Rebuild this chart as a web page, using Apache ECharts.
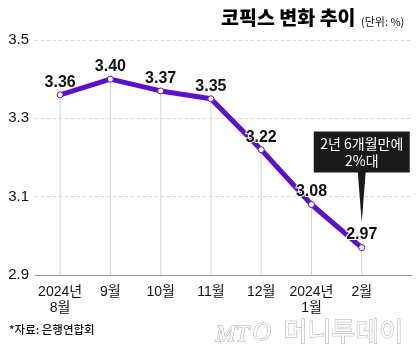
<!DOCTYPE html>
<html><head><meta charset="utf-8">
<script src="https://cdn.jsdelivr.net/npm/echarts@6/dist/echarts.min.js"></script>
<style>html,body{margin:0;padding:0;background:#fff}#c{width:420px;height:364px}</style>
</head><body><div id="c"></div>
<script>
const categories = ['2024년\n8월','9월','10월','11월','12월','2024년\n1월','2월'];
const values = [3.36, 3.40, 3.37, 3.35, 3.22, 3.08, 2.97];
const yTicks = [2.9, 3.1, 3.3, 3.5];
const titleText = '코픽스 변화 추이';
const unitText = '(단위: %)';
const sourceText = '*자료: 은행연합회';
const calloutText = '2년 6개월만에\n2%대';
const calloutIndex = 6;

const NARROW = '"Liberation Sans Narrow","Arial Narrow","Liberation Sans",Arial,sans-serif';
const KR = '"Noto Sans CJK KR","Noto Sans",sans-serif';
const LINE = '#5a10cc';

const chart = echarts.init(document.getElementById('c'), null, {renderer:'canvas'});
const option = {
  animation: false,
  backgroundColor: '#fff',
  grid: {left: 35, right: 8, top: 40, bottom: 89},
  xAxis: {
    type: 'value', min: -0.5, max: categories.length, interval: 0.5,
    splitLine: {show: false},
    axisTick: {show: false},
    axisLine: {show: true, lineStyle: {color: '#9a9a9a', width: 1}},
    axisLabel: {
      color: '#111', fontSize: 14, fontFamily: NARROW + ',' + KR, lineHeight: 16, margin: 9,
      showMinLabel: true, showMaxLabel: true,
      formatter: v => (Number.isInteger(v) && v >= 0 && v < categories.length) ? categories[v] : ''
    }
  },
  yAxis: {
    type: 'value', min: yTicks[0], max: yTicks[yTicks.length-1], interval: 0.2,
    axisLine: {show: false}, axisTick: {show: false},
    splitLine: {show: true, lineStyle: {color: '#d6d6d6', type: [3,3], width: 1}},
    axisLabel: {color: '#111', fontSize: 15, fontFamily: NARROW, margin: 6,
      formatter: v => v.toFixed(1)}
  },
  series: [
    {
      type: 'bar', silent: true, barWidth: 1, z: 1,
      itemStyle: {color: '#d4d4d4'},
      data: values.map((v, i) => [i, v])
    },
    {
      type: 'line', z: 3,
      data: values.map((v, i) => [i, v]),
      lineStyle: {color: LINE, width: 5},
      symbol: 'circle', symbolSize: 6,
      itemStyle: {color: '#fff', borderColor: LINE, borderWidth: 1},
      label: {
        show: true, position: 'top', distance: 1,
        color: '#111', fontSize: 16, fontWeight: 'bold', fontFamily: NARROW,
        textBorderColor: '#fff', textBorderWidth: 2,
        formatter: p => p.value[1].toFixed(2)
      }
    }
  ]
};
chart.setOption(option);

const p = chart.convertToPixel({gridIndex: 0}, [calloutIndex, values[calloutIndex]]);
const boxW = 96, boxH = 41;
const boxTop = p[1] - 116;
const tipY = p[1] - 25;
chart.setOption({
  graphic: [
    {type: 'text', left: 221, top: 8, style: {text: titleText, fill: '#000', font: '900 19.5px ' + KR}},
    {type: 'text', left: 361, top: 16, style: {text: unitText, fill: '#111', font: '11px ' + KR}},
    {type: 'text', left: 9, top: 324, style: {text: sourceText, fill: '#111', font: '500 11.5px ' + KR}},
    {type: 'rect', shape: {x: p[0] - boxW/2, y: boxTop, width: boxW, height: boxH}, style: {fill: '#1a1a1a'}, z: 10},
    {type: 'polygon', shape: {points: [[p[0]-4, boxTop+boxH-1], [p[0]+4, boxTop+boxH-1], [p[0], tipY]]}, style: {fill: '#1a1a1a'}, z: 10},
    {type: 'text', x: p[0], y: boxTop + boxH/2, z: 11,
      style: {text: calloutText, fill: '#fff', font: '14px ' + KR, align: 'center', verticalAlign: 'middle', lineHeight: 17}},
    {type: 'text', left: 215, top: 322, z: 5,
      style: {text: 'MT', fill: '#fff', stroke: '#a8a8a8', lineWidth: 1, font: 'italic 24px "Liberation Serif",serif'}},
    {type: 'text', left: 252, top: 320, z: 5,
      style: {text: 'O', fill: '#fff', stroke: '#a8a8a8', lineWidth: 1, font: 'italic 26px "Liberation Serif",serif'}},
    {type: 'text', left: 283, top: 318, z: 5,
      style: {text: '머니투데이', fill: '#fff', stroke: '#a8a8a8', lineWidth: 1, font: '26px ' + KR}}
  ]
});
</script></body></html>
